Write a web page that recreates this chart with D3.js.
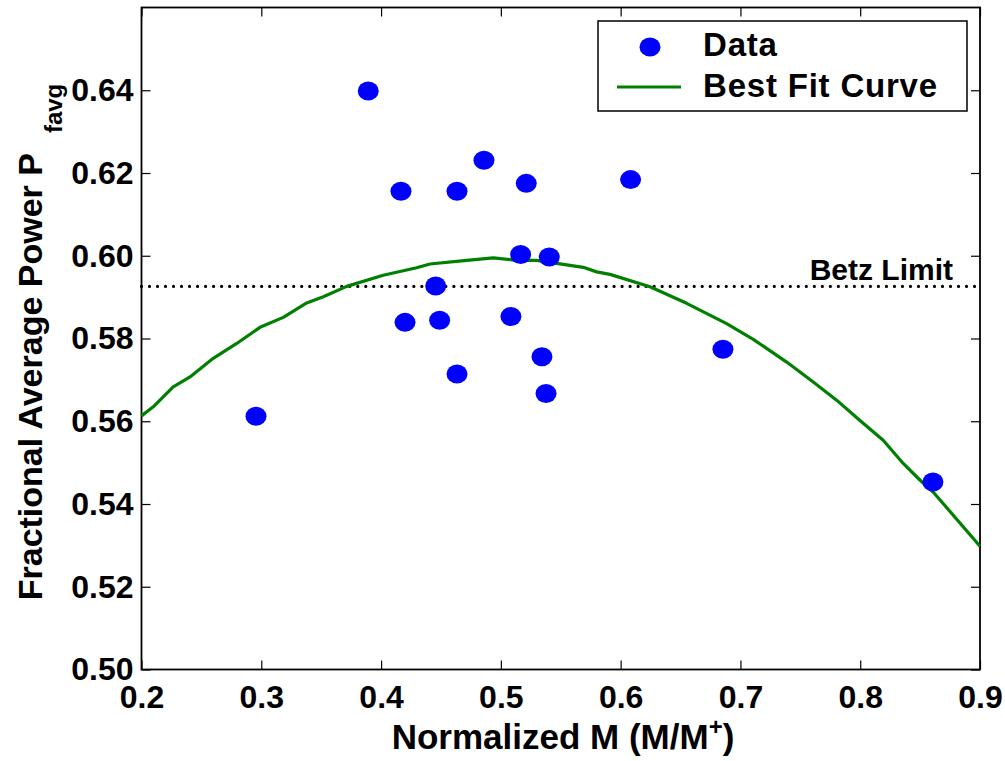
<!DOCTYPE html>
<html>
<head>
<meta charset="utf-8">
<script src="https://cdn.jsdelivr.net/npm/d3@7"></script>
<style>
  html, body { margin: 0; padding: 0; background: #fff; }
  svg { display: block; }
  text { font-family: "Liberation Sans", Arial, Helvetica, sans-serif; font-weight: bold; fill: #000; }
</style>
</head>
<body>
<svg id="chart" width="1005" height="761"></svg>
<script>
// ---- data ----
const dataX = [0.2956, 0.3893, 0.4166, 0.4634, 0.4859, 0.5212, 0.6083, 0.5165, 0.5404,
               0.4456, 0.4200, 0.4489, 0.5084, 0.5343, 0.4634, 0.5377, 0.6854, 0.8607];
const dataY = [0.5612, 0.6398, 0.6156, 0.6156, 0.6231, 0.6175, 0.6184, 0.6003, 0.5997,
               0.5927, 0.5839, 0.5844, 0.5853, 0.5756, 0.5714, 0.5667, 0.5774, 0.5453];
const fitX = [0.2000, 0.2098, 0.2265, 0.2405, 0.2599, 0.2795, 0.2989, 0.3184, 0.3379, 0.3518,
              0.3713, 0.4018, 0.4297, 0.4408, 0.4715, 0.4937, 0.5132, 0.5299, 0.5688, 0.5800,
              0.5911, 0.6245, 0.6551, 0.6885, 0.7107, 0.7386, 0.7608, 0.7803, 0.7998, 0.8192,
              0.8359, 0.8498, 0.8609, 0.9000];
const fitY = [0.5613, 0.5635, 0.5683, 0.5707, 0.5752, 0.5788, 0.5827, 0.5851, 0.5886, 0.5901,
              0.5926, 0.5953, 0.5971, 0.5980, 0.5989, 0.5995, 0.5989, 0.5989, 0.5972, 0.5961,
              0.5955, 0.5925, 0.5885, 0.5836, 0.5798, 0.5743, 0.5695, 0.5651, 0.5602, 0.5554,
              0.5498, 0.5458, 0.5429, 0.5298];
const betzLimit = 16 / 27;
const xTicks = [0.2, 0.3, 0.4, 0.5, 0.6, 0.7, 0.8, 0.9];
const yTicks = [0.50, 0.52, 0.54, 0.56, 0.58, 0.60, 0.62, 0.64];
const xDomain = [0.2, 0.9];
const yDomain = [0.50, 0.66];
const legendLabels = ["Data", "Best Fit Curve"];

// ---- layout ----
const svg = d3.select("#chart");
const L = 141.5, R = 980, T = 7.5, B = 669.5;
const x = d3.scaleLinear().domain(xDomain).range([L, R]);
const y = d3.scaleLinear().domain(yDomain).range([B, T]);
const blue = "#0000ff", green = "#008000";
const tickLen = 9;

// axes (inside ticks, MATLAB box)
const fmtX = d3.format(".1f"), fmtY = d3.format(".2f");
svg.append("g").attr("transform", `translate(0,${B})`)
  .call(d3.axisBottom(x).tickValues(xTicks).tickSize(-tickLen).tickPadding(14).tickFormat(fmtX))
  .call(g => g.select(".domain").remove())
  .call(g => g.selectAll("text").attr("font-size", 32).attr("dy", "0.75em"));
svg.append("g").attr("transform", `translate(0,${T})`)
  .call(d3.axisTop(x).tickValues(xTicks).tickSize(-tickLen).tickFormat(""))
  .call(g => g.select(".domain").remove());
svg.append("g").attr("transform", `translate(${L},0)`)
  .call(d3.axisLeft(y).tickValues(yTicks).tickSize(-tickLen).tickPadding(8).tickFormat(fmtY))
  .call(g => g.select(".domain").remove())
  .call(g => g.selectAll("text").attr("font-size", 32));
svg.append("g").attr("transform", `translate(${R},0)`)
  .call(d3.axisRight(y).tickValues(yTicks).tickSize(-tickLen).tickFormat(""))
  .call(g => g.select(".domain").remove());
svg.selectAll(".tick line").attr("stroke", "#000").attr("stroke-width", 1.2);
svg.append("rect").attr("x", L).attr("y", T).attr("width", R - L).attr("height", B - T)
  .attr("fill", "none").attr("stroke", "#000").attr("stroke-width", 1.8);

// Betz limit
svg.append("line")
  .attr("x1", x(xDomain[0])).attr("x2", x(xDomain[1]))
  .attr("y1", y(betzLimit)).attr("y2", y(betzLimit))
  .attr("stroke", "#000").attr("stroke-width", 3.2)
  .attr("stroke-linecap", "round").attr("stroke-dasharray", "0.01 8");
svg.append("text").attr("x", 953).attr("y", y(betzLimit) - 6)
  .attr("text-anchor", "end").attr("font-size", 30).text("Betz Limit");

// fit curve
const line = d3.line().x((d, i) => x(fitX[i])).y((d, i) => y(fitY[i]));
svg.append("path").datum(fitX).attr("d", line)
  .attr("fill", "none").attr("stroke", green).attr("stroke-width", 3.2)
  .attr("stroke-linejoin", "round");

// data points
svg.append("g").selectAll("ellipse").data(dataX).join("ellipse")
  .attr("cx", (d, i) => x(dataX[i])).attr("cy", (d, i) => y(dataY[i]))
  .attr("rx", 10.5).attr("ry", 9.5).attr("fill", blue);

// legend
const lg = svg.append("g");
lg.append("rect").attr("x", 598).attr("y", 21).attr("width", 369).attr("height", 90)
  .attr("fill", "#fff").attr("stroke", "#000").attr("stroke-width", 1.5);
lg.append("ellipse").attr("cx", 650).attr("cy", 47).attr("rx", 10.5).attr("ry", 9.5).attr("fill", blue);
lg.append("line").attr("x1", 617).attr("x2", 681).attr("y1", 87).attr("y2", 87)
  .attr("stroke", green).attr("stroke-width", 3.2);
lg.append("text").attr("x", 703).attr("y", 56).attr("font-size", 33).attr("letter-spacing", 0.8).text(legendLabels[0]);
lg.append("text").attr("x", 703).attr("y", 97).attr("font-size", 33).attr("letter-spacing", 0.8).text(legendLabels[1]);

// axis titles
const xt = svg.append("text").attr("x", 563).attr("y", 749).attr("text-anchor", "middle").attr("font-size", 35);
xt.append("tspan").text("Normalized M (M/M");
xt.append("tspan").attr("dy", -14).attr("font-size", 24).text("+");
xt.append("tspan").attr("dy", 14).text(")");

const yt = svg.append("text").attr("transform", "translate(42,342) rotate(-90)")
  .attr("text-anchor", "middle").attr("font-size", 34);
yt.append("tspan").text("Fractional Average Power P");
yt.append("tspan").attr("dx", 20).attr("dy", 20).attr("font-size", 24).text("favg");
</script>
</body>
</html>
